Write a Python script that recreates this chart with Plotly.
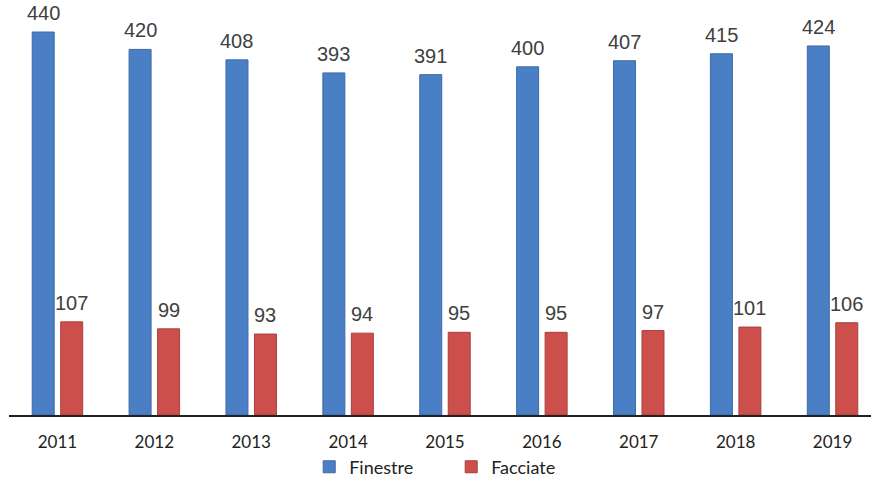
import plotly.graph_objects as go

years = ["2011", "2012", "2013", "2014", "2015", "2016", "2017", "2018", "2019"]
finestre = [440, 420, 408, 393, 391, 400, 407, 415, 424]
facciate = [107, 99, 93, 94, 95, 95, 97, 101, 106]

label_font = dict(family="Liberation Sans, Arial", size=20, color="#404040")

fig = go.Figure()
fig.add_trace(go.Bar(
    x=years, y=finestre, name="Finestre",
    marker=dict(color="#4a7fc6", line=dict(color="#3d6aa8", width=1)),
))
fig.add_trace(go.Bar(
    x=years, y=facciate, name="Facciate",
    marker=dict(color="#cc4f4b", line=dict(color="#a93f3c", width=1)),
))

for series, dx in ((finestre, -14.25), (facciate, 14.25)):
    for i, v in enumerate(series):
        fig.add_annotation(x=i, y=v, xref="x", yref="y", text=str(v),
                           showarrow=False, xshift=dx, yshift=6,
                           yanchor="bottom", font=label_font)

fig.update_layout(
    width=871, height=486,
    margin=dict(l=9, r=0, t=20, b=71, autoexpand=False),
    paper_bgcolor="white", plot_bgcolor="white",
    barmode="group", bargap=0.412, bargroupgap=0.228,
    showlegend=True,
    legend=dict(orientation="h", x=0.513, xanchor="center", y=-0.085, yanchor="top",
                font=dict(family="Lato, Open Sans", size=18, color="#222"),
                itemwidth=30, entrywidthmode="pixels", entrywidth=97),
    xaxis=dict(type="category", showline=True, linecolor="#222", linewidth=2, ticks="",
               range=[-0.5, 8.397], ticklabelstandoff=11,
               tickfont=dict(family="Lato, Open Sans", size=17, color="#222")),
    yaxis=dict(range=[0, 453.8], visible=False, showgrid=False),
)

fig.write_html("out.html")
